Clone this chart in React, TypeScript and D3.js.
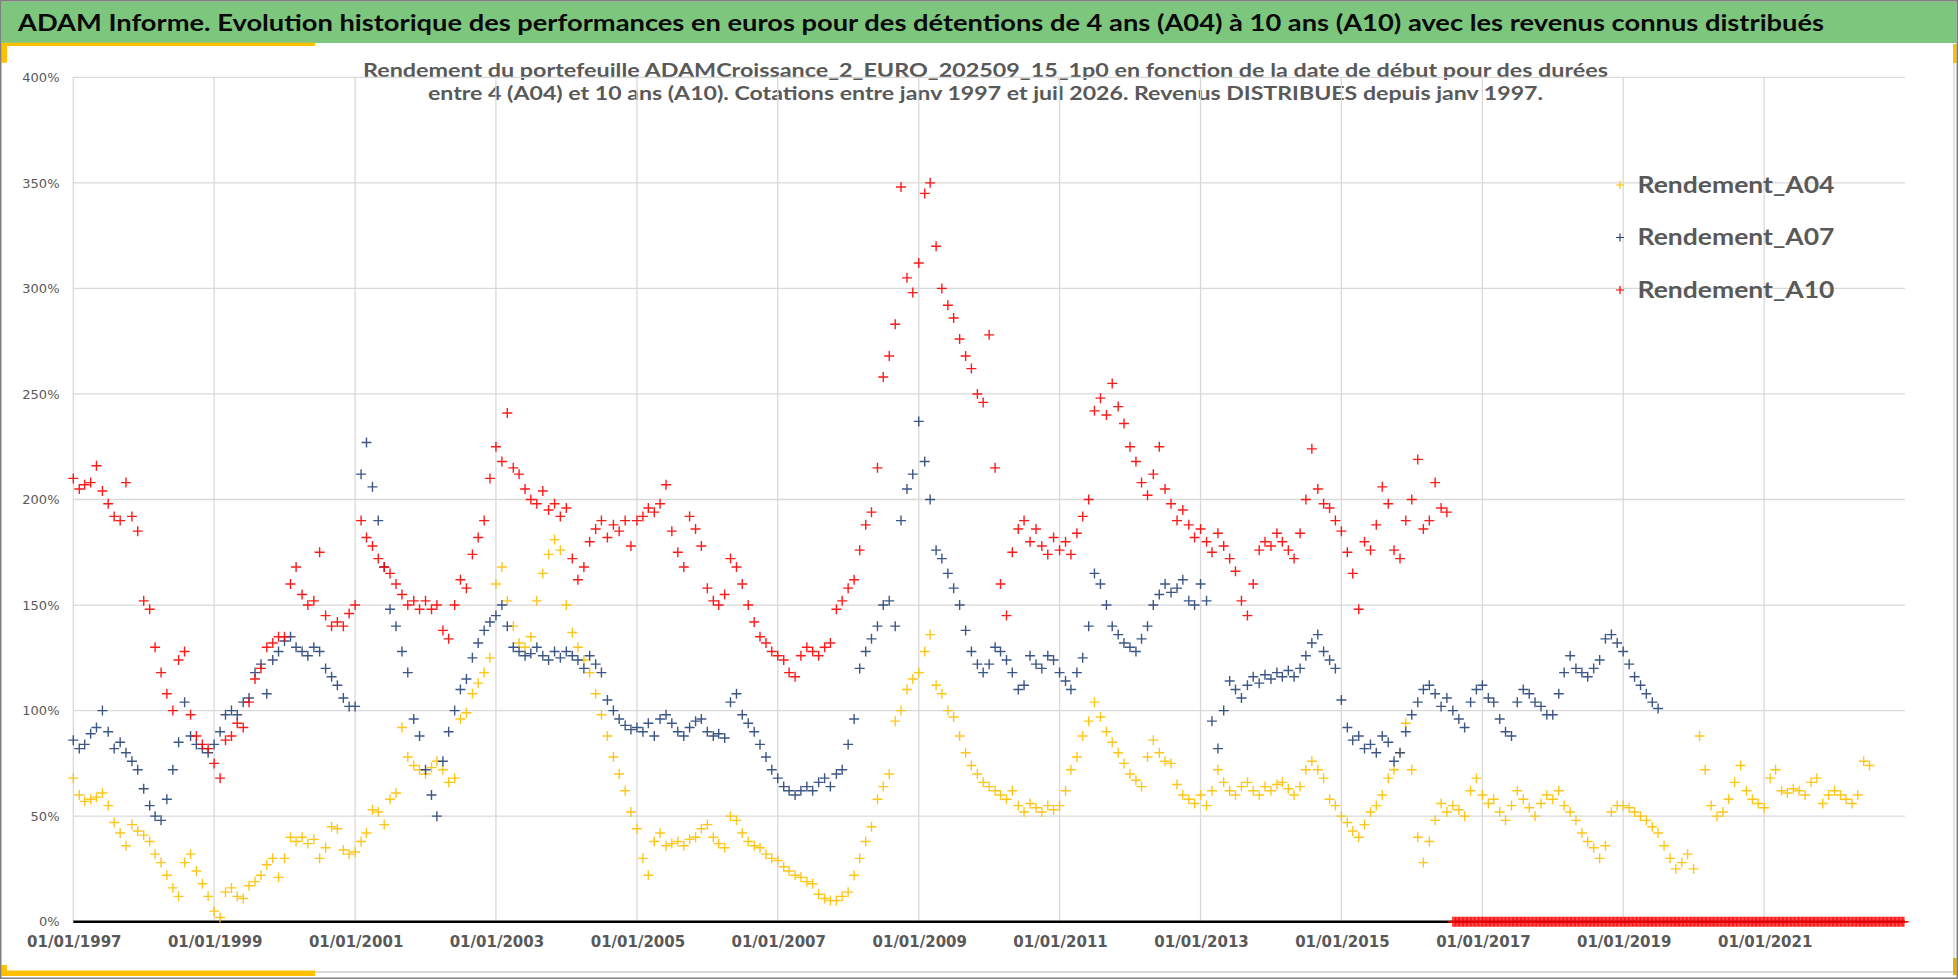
import React from "react";
import * as d3 from "d3";

// ---------- DATA (monthly readings, % return, first month = Jan 1997) ----------
const START_YEAR = 1997;
const TICK_YEARS = [1997, 1999, 2001, 2003, 2005, 2007, 2009, 2011, 2013, 2015, 2017, 2019, 2021];
const Y_TICKS = [0, 0.5, 1, 1.5, 2, 2.5, 3, 3.5, 4];
const SERIES_NAMES = ["Rendement_A04", "Rendement_A07", "Rendement_A10"];

const A04 = [
  68, 60, 57, 58, 59, 61, 55, 47, 42, 36, 46, 43,
  41, 38, 32, 28, 22, 16, 12, 28, 32, 24, 18, 12,
  5, 2, 14, 16, 12, 11, 17, 19, 22, 27, 30, 21,
  30, 40, 38, 40, 37, 39, 30, 35, 45, 44, 34, 32,
  33, 38, 42, 53, 52, 46, 58, 61, 92, 78, 74, 72,
  70, 73, 76, 72, 66, 68, 96, 99, 108, 113, 118, 125,
  160, 168, 152, 140, 132, 130, 135, 152, 165, 174, 181, 176,
  150, 137, 130, 124, 118, 108, 98, 88, 78, 70, 62, 52,
  44, 30, 22, 38, 42, 36, 37, 38, 36, 39, 40, 44,
  46, 40, 37, 35, 50, 48, 42, 38, 36, 35, 32, 30,
  29, 26, 24, 22, 21, 19, 18, 13, 11, 10, 10, 12,
  14, 22, 30, 38, 45, 58, 64, 70, 95, 100, 110, 115,
  118, 128, 136, 112, 108, 100, 97, 88, 80, 74, 70, 66,
  64, 62, 60, 58, 62, 55, 52, 56, 54, 52, 55, 53,
  55, 62, 72, 78, 88, 95, 104, 97, 90, 85, 80, 75,
  70, 67, 64, 78, 86, 80, 76, 75, 65, 60, 58, 56,
  60, 55, 62, 72, 66, 62, 60, 64, 66, 62, 60, 64,
  62, 65, 66, 63, 60, 64, 72, 76, 72, 68, 58, 55,
  50, 47, 43, 40, 46, 52, 55, 60, 68, 72, 80, 94,
  72, 40, 28, 38, 48, 56, 52, 55, 53, 50, 62, 68,
  60, 56, 58, 52, 48, 55, 62, 58, 54, 50, 56, 60,
  58, 62, 55, 52, 48, 42, 38, 35, 30, 36, 52, 55,
  55, 54, 52, 50, 48, 45, 42, 36, 30, 25, 28, 32,
  25, 88, 72, 55, 50, 52, 58, 66, 74, 62, 58, 56,
  54, 68, 72, 62, 61, 63, 62, 60, 66, 68, 56, 60,
  62, 60, 58, 56, 60, 76, 74,
];

const A07 = [
  86, 82, 84, 89, 92, 100, 90, 82, 85, 80, 76, 72,
  63, 55, 50, 48, 58, 72, 85, 104, 88, 84, 82, 80,
  84, 90, 98, 100, 98, 104, 106, 118, 122, 108, 124, 128,
  133, 135, 130, 128, 126, 130, 128, 120, 116, 112, 106, 102,
  102, 212, 227, 206, 190, 168, 148, 140, 128, 118, 96, 88,
  72, 60, 50, 76, 90, 100, 110, 115, 125, 132, 138, 142,
  145, 150, 140, 130, 128, 126, 127, 130, 126, 124, 128, 125,
  128, 126, 124, 120, 126, 122, 118, 105, 100, 96, 93, 91,
  92, 90, 94, 88, 96, 98, 94, 90, 88, 92, 95, 96,
  90, 88, 89, 87, 104, 108, 98, 94, 90, 84, 78, 72,
  68, 64, 62, 60, 62, 64, 62, 66, 68, 64, 70, 72,
  84, 96, 120, 128, 134, 140, 150, 152, 140, 190, 205, 212,
  237, 218, 200, 176, 172, 165, 158, 150, 138, 128, 122, 118,
  122, 130, 128, 124, 118, 110, 112, 126, 122, 120, 126, 124,
  118, 114, 110, 118, 125, 140, 165, 160, 150, 140, 136, 132,
  130, 128, 134, 140, 150, 155, 160, 156, 158, 162, 152, 150,
  160, 152, 95, 82, 100, 114, 110, 106, 112, 116, 113, 117,
  115, 118, 116, 119, 116, 120, 126, 132, 136, 128, 124, 120,
  105, 92, 86, 88, 82, 84, 80, 88, 85, 76, 80, 90,
  98, 104, 110, 112, 108, 102, 106, 100, 96, 92, 104, 110,
  112, 106, 104, 96, 90, 88, 104, 110, 108, 104, 102, 98,
  98, 108, 118, 126, 120, 118, 116, 120, 124, 134, 136, 132,
  128, 122, 116, 112, 108, 104, 101,
];

const A10 = [
  210, 205, 207, 208, 216, 204, 198, 192, 190, 208, 192, 185,
  152, 148, 130, 118, 108, 100, 124, 128, 98, 88, 84, 82,
  75, 68, 86, 88, 94, 92, 104, 115, 120, 130, 132, 135,
  135, 160, 168, 155, 150, 152, 175, 145, 140, 142, 140, 146,
  150, 190, 182, 178, 172, 168, 165, 160, 155, 150, 152, 148,
  152, 148, 150, 138, 134, 150, 162, 158, 174, 182, 190, 210,
  225, 218, 241, 215, 212, 205, 200, 198, 204, 195, 198, 192,
  196, 172, 162, 168, 180, 186, 190, 182, 188, 185, 190, 178,
  190, 192, 196, 194, 198, 207, 185, 175, 168, 192, 186, 178,
  158, 152, 150, 155, 172, 168, 160, 150, 142, 135, 132, 128,
  126, 124, 118, 116, 126, 130, 128, 126, 130, 132, 148, 152,
  158, 162, 176, 188, 194, 215, 258, 268, 283, 348, 305, 298,
  312, 345, 350, 320, 300, 292, 286, 276, 268, 262, 250, 246,
  278, 215, 160, 145, 175, 186, 190, 180, 186, 178, 174, 182,
  176, 180, 174, 184, 192, 200, 242, 248, 240, 255, 244, 236,
  225, 218, 208, 202, 212, 225, 205, 198, 190, 195, 188, 182,
  186, 180, 175, 184, 178, 172, 166, 152, 145, 160, 176, 180,
  178, 184, 180, 176, 172, 184, 200, 224, 205, 198, 196, 190,
  185, 175, 165, 148, 180, 176, 188, 206, 198, 176, 172, 190,
  200, 219, 186, 190, 208, 196, 194,
];

// A10 after Jul 2016: no 10-year result yet, plotted as 0 (weekly quotes from 1 Aug 2016)
const A10_TAIL_START = [2016, 7, 1];
const A10_TAIL = [
  0, 0, 0, 0, 0, 0, 0, 0, 0, 0, 0, 0, 0, 0, 0, 0, 0, 0, 0, 0,
  0, 0, 0, 0, 0, 0, 0, 0, 0, 0, 0, 0, 0, 0, 0, 0, 0, 0, 0, 0,
  0, 0, 0, 0, 0, 0, 0, 0, 0, 0, 0, 0, 0, 0, 0, 0, 0, 0, 0, 0,
  0, 0, 0, 0, 0, 0, 0, 0, 0, 0, 0, 0, 0, 0, 0, 0, 0, 0, 0, 0,
  0, 0, 0, 0, 0, 0, 0, 0, 0, 0, 0, 0, 0, 0, 0, 0, 0, 0, 0, 0,
  0, 0, 0, 0, 0, 0, 0, 0, 0, 0, 0, 0, 0, 0, 0, 0, 0, 0, 0, 0,
  0, 0, 0, 0, 0, 0, 0, 0, 0, 0, 0, 0, 0, 0, 0, 0, 0, 0, 0, 0,
  0, 0, 0, 0, 0, 0, 0, 0, 0, 0, 0, 0, 0, 0, 0, 0, 0, 0, 0, 0,
  0, 0, 0, 0, 0, 0, 0, 0, 0, 0, 0, 0, 0, 0, 0, 0, 0, 0, 0, 0,
  0, 0, 0, 0, 0, 0, 0, 0, 0, 0, 0, 0, 0, 0, 0, 0, 0, 0, 0, 0,
  0, 0, 0, 0, 0, 0, 0, 0, 0, 0, 0, 0, 0, 0, 0, 0, 0, 0, 0, 0,
  0, 0, 0, 0, 0, 0, 0, 0, 0, 0, 0, 0, 0, 0, 0, 0, 0, 0, 0, 0,
  0, 0, 0, 0, 0, 0, 0, 0, 0, 0, 0, 0, 0, 0, 0, 0, 0, 0, 0, 0,
  0, 0, 0, 0, 0, 0, 0, 0, 0, 0, 0, 0, 0, 0, 0, 0, 0, 0, 0, 0,
  0, 0, 0, 0, 0, 0, 0, 0, 0, 0, 0, 0, 0, 0, 0, 0, 0, 0, 0, 0,
  0, 0, 0, 0, 0, 0, 0, 0, 0, 0, 0, 0, 0, 0, 0, 0, 0, 0, 0, 0,
  0, 0, 0, 0, 0, 0, 0, 0, 0, 0, 0, 0, 0, 0, 0,
];

const TITLE =
  "ADAM Informe. Evolution historique des performances en euros pour des détentions de 4 ans (A04) à 10 ans (A10) avec les revenus connus distribués";
const SUB1 =
  "Rendement du portefeuille ADAMCroissance_2_EURO_202509_15_1p0  en fonction de la date de début pour des durées";
const SUB2 =
  "entre 4 (A04) et 10 ans (A10). Cotations entre janv 1997 et juil 2026. Revenus DISTRIBUES depuis janv 1997.";

// ---------- LAYOUT ----------
const W = 1958;
const H = 979;
const PLOT = { left: 73.3, right: 1905, top: 77.3, bottom: 921.7 };
const COLORS = ["#FFC000", "#264478", "#FF0000"];
const CAL = "Lato, 'Open Sans', sans-serif";
const VER = "'DejaVu Sans', Verdana, sans-serif";

type Pt = { date: Date; v: number };

export default function App() {
  const start = new Date(START_YEAR, 0, 1);
  const x = d3
    .scaleTime()
    .domain([start, new Date(2023, 0, 1)])
    .range([PLOT.left, PLOT.right]);
  const y = d3.scaleLinear().domain([0, 4]).range([PLOT.bottom, PLOT.top]);
  const fmtDate = d3.timeFormat("%d/%m/%Y");
  const fmtPct = d3.format(".0%");

  const monthly = (vals: number[]): Pt[] =>
    vals.map((v, i) => ({ date: d3.timeMonth.offset(start, i), v: v / 100 }));
  const tailStart = new Date(A10_TAIL_START[0], A10_TAIL_START[1], A10_TAIL_START[2]);
  const tail: Pt[] = A10_TAIL.map((v, i) => ({ date: d3.timeDay.offset(tailStart, i * 7), v: v / 100 }));

  const series: Pt[][] = [monthly(A04), monthly(A07), monthly(A10).concat(tail)];

  const plus = (s: number) => `M${-s},0H${s}M0,${-s}V${s}`;
  const tickDates = TICK_YEARS.map((yr) => new Date(yr, 0, 1));

  return (
    <div>
      <style>{"body{margin:0;}"}</style>
      <svg width={W} height={H} style={{ display: "block" }}>
        <rect x={0} y={0} width={W} height={H} fill="#ffffff" />
        {/* header band */}
        <rect x={1.5} y={1.5} width={W - 3} height={41.5} fill="#7DC67E" />
        <text
          x={18}
          y={30.5}
          fontFamily={CAL}
          fontWeight="bold"
          fontSize={22}
          fill="#0a0a0a"
          textLength={1806}
          lengthAdjust="spacingAndGlyphs"
        >
          {TITLE}
        </text>
        {/* frame accents */}
        <rect x={7} y={42.7} width={308} height={3.3} fill="#FFC000" />
        <rect x={1.5} y={42.7} width={5.5} height={20} fill="#FFC000" />
        <rect x={1953} y={44} width={3.5} height={19} fill="#FFC000" />
        <line x1={1954} x2={1954} y1={63} y2={972} stroke="#D9D9D9" strokeWidth={1.5} />
        <line x1={315} x2={1954} y1={972} y2={972} stroke="#D9D9D9" strokeWidth={2} />
        <rect x={7} y={970.5} width={308} height={5.5} fill="#FFC000" />
        <rect x={1.5} y={965} width={5.5} height={11} fill="#FFC000" />
        <rect x={1953} y={958} width={3.5} height={17} fill="#E0B000" />
        <rect x={0.75} y={0.75} width={W - 1.5} height={H - 1.5} fill="none" stroke="#7F7F7F" strokeWidth={1.5} />

        {/* subtitle */}
        <g fontFamily={CAL} fontWeight="bold" fontSize={19} fill="#595959" textAnchor="middle">
          <text x={985.5} y={76.5} textLength={1245} lengthAdjust="spacingAndGlyphs">
            {SUB1}
          </text>
          <text x={985.5} y={100} textLength={1115} lengthAdjust="spacingAndGlyphs">
            {SUB2}
          </text>
        </g>

        {/* gridlines */}
        <g stroke="#D9D9D9" strokeWidth={1.3}>
          {Y_TICKS.map((t) => (
            <line key={"h" + t} x1={PLOT.left} x2={PLOT.right} y1={y(t)} y2={y(t)} />
          ))}
          {tickDates.map((d) => (
            <line key={"v" + d.getFullYear()} x1={x(d)} x2={x(d)} y1={PLOT.top} y2={PLOT.bottom} />
          ))}
        </g>

        {/* y labels */}
        <g fontFamily={VER} fontSize={13} fill="#595959" textAnchor="end">
          {Y_TICKS.map((t) => (
            <text key={"yl" + t} x={59.5} y={y(t)} dy="0.36em">
              {fmtPct(t)}
            </text>
          ))}
        </g>

        {/* x axis line */}
        <line x1={PLOT.left} x2={PLOT.right} y1={y(0)} y2={y(0)} stroke="#000000" strokeWidth={2.6} />

        {/* x labels */}
        <g fontFamily={VER} fontWeight="bold" fontSize={15} fill="#595959" textAnchor="middle">
          {tickDates.map((d) => (
            <text key={"xl" + d.getFullYear()} x={x(d) + 1} y={947}>
              {fmtDate(d)}
            </text>
          ))}
        </g>

        {/* points */}
        {series.map((pts, si) => (
          <g key={"s" + si} stroke={COLORS[si]} strokeWidth={1.4} fill="none" opacity={0.9}>
            {pts.map((p, i) => (
              <path key={i} d={plus(5)} transform={`translate(${x(p.date)},${y(p.v)})`} />
            ))}
          </g>
        ))}

        {/* legend */}
        {SERIES_NAMES.map((name, i) => {
          const cy = 185 + i * 52.5;
          return (
            <g key={name}>
              <path d={plus(4)} transform={`translate(1620,${cy})`} stroke={COLORS[i]} strokeWidth={1.2} />
              <text
                x={1637.5}
                y={cy + 7.5}
                fontFamily={CAL}
                fontWeight="bold"
                fontSize={22}
                fill="#595959"
                textLength={197}
                lengthAdjust="spacingAndGlyphs"
              >
                {name}
              </text>
            </g>
          );
        })}
      </svg>
    </div>
  );
}
